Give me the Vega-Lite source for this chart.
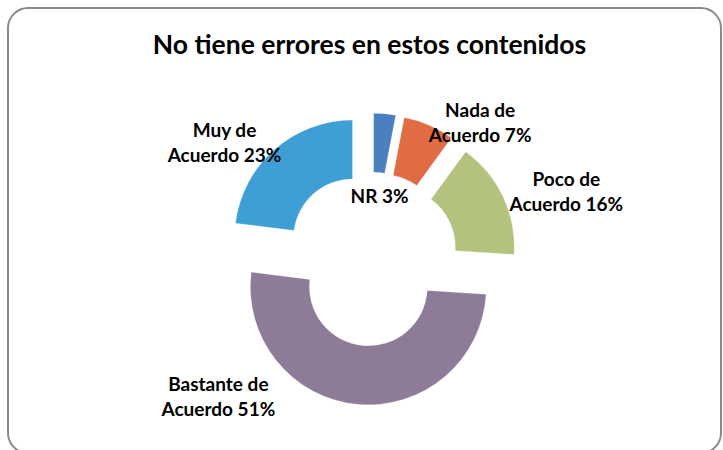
{
  "$schema": "https://vega.github.io/schema/vega-lite/v6.json",
  "width": 713,
  "height": 445,
  "autosize": {"type": "none"},
  "padding": {"left": 8, "top": 8, "right": 2, "bottom": -3},
  "background": "white",
  "view": {"stroke": "#8a8a8a", "strokeWidth": 2, "cornerRadius": 20, "fill": "white"},
  "title": {
    "text": "No tiene errores en estos contenidos",
    "font": "Lato",
    "fontSize": 26.5,
    "fontWeight": "bold",
    "color": "#000000",
    "anchor": "middle",
    "offset": -51,
    "dx": 5
  },
  "data": {
    "values": [
      {"ord": 1, "cat": "NR", "pct": 3},
      {"ord": 2, "cat": "Nada de Acuerdo", "pct": 7},
      {"ord": 3, "cat": "Poco de Acuerdo", "pct": 16},
      {"ord": 4, "cat": "Bastante de Acuerdo", "pct": 51},
      {"ord": 5, "cat": "Muy de Acuerdo", "pct": 23}
    ]
  },
  "transform": [
    {"window": [{"op": "sum", "field": "pct", "as": "t1"}], "sort": [{"field": "ord"}], "frame": [null, 0]},
    {"calculate": "datum.t1 - datum.pct", "as": "t0"},
    {"calculate": "PI * (datum.t0 + datum.t1) / 100", "as": "mid"},
    {"calculate": "0.237 * sin(datum.mid)", "as": "ex"},
    {"calculate": "0.237 * cos(datum.mid)", "as": "ey"},
    {"calculate": "replace(datum.cat, ' Acuerdo', '\\nAcuerdo') + ' ' + datum.pct + '%'", "as": "label"}
  ],
  "encoding": {
    "x": {"field": "ex", "type": "quantitative", "scale": {"domain": [-3.0763, 2.9661], "nice": false, "zero": false}, "axis": null},
    "y": {"field": "ey", "type": "quantitative", "scale": {"domain": [-1.6441, 2.1271], "nice": false, "zero": false}, "axis": null}
  },
  "layer": [
    {
      "mark": {"type": "arc", "innerRadius": 59, "outerRadius": 118, "stroke": "#ffffff", "strokeOpacity": 0.25, "strokeWidth": 1},
      "encoding": {
        "theta": {"field": "t0", "type": "quantitative", "stack": null, "scale": {"domain": [0, 100], "range": [0, 6.283185307]}},
        "theta2": {"field": "t1"},
        "color": {
          "field": "cat",
          "type": "nominal",
          "scale": {
            "domain": ["NR", "Nada de Acuerdo", "Poco de Acuerdo", "Bastante de Acuerdo", "Muy de Acuerdo"],
            "range": ["#4a7fc0", "#e06c44", "#b3c37d", "#8e7b98", "#3e9fd5"]
          },
          "legend": null
        }
      }
    },
    {
      "transform": [{"filter": "datum.cat === 'NR'"}],
      "mark": {"type": "text", "dx": 6, "dy": -34},
      "encoding": {"text": {"field": "label"}}
    },
    {
      "transform": [{"filter": "datum.cat === 'Nada de Acuerdo'"}],
      "mark": {"type": "text", "dx": 98, "dy": -122},
      "encoding": {"text": {"field": "label"}}
    },
    {
      "transform": [{"filter": "datum.cat === 'Poco de Acuerdo'"}],
      "mark": {"type": "text", "dx": 170, "dy": -67},
      "encoding": {"text": {"field": "label"}}
    },
    {
      "transform": [{"filter": "datum.cat === 'Bastante de Acuerdo'"}],
      "mark": {"type": "text", "dx": -150, "dy": 98},
      "encoding": {"text": {"field": "label"}}
    },
    {
      "transform": [{"filter": "datum.cat === 'Muy de Acuerdo'"}],
      "mark": {"type": "text", "dx": -128, "dy": -107},
      "encoding": {"text": {"field": "label"}}
    }
  ],
  "config": {
    "text": {
      "font": "Lato",
      "fontSize": 19,
      "fontWeight": "bold",
      "lineBreak": "\n",
      "lineHeight": 25,
      "baseline": "middle",
      "align": "center",
      "color": "#000000"
    }
  }
}
